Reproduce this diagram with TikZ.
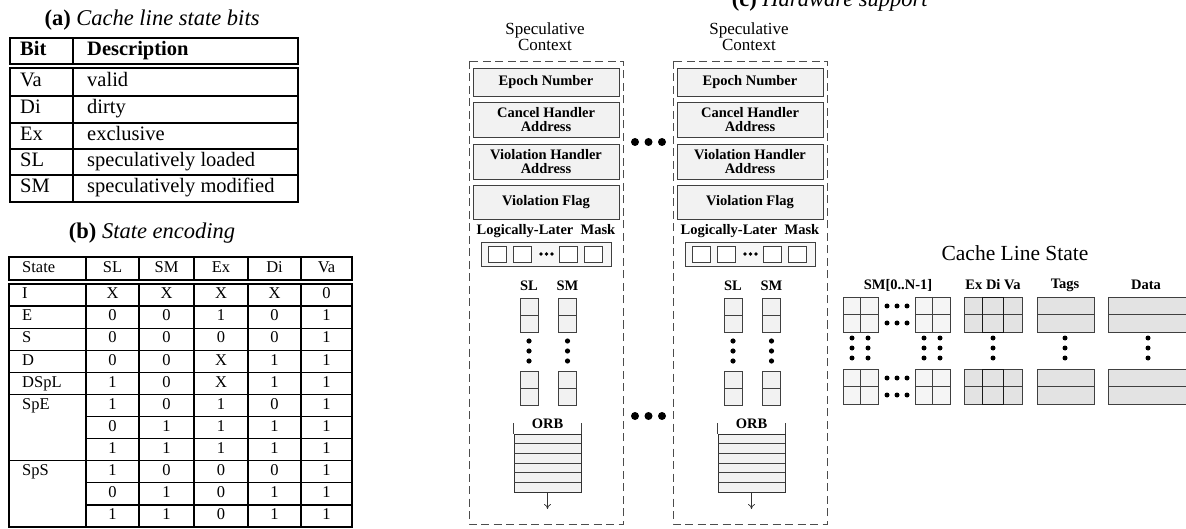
\documentclass[tikz,border=0pt]{standalone}
\usepackage{fontspec}
\setmainfont{Liberation Serif}
\usetikzlibrary{arrows.meta}
\begin{document}
\begin{tikzpicture}[x=1pt,y=-1pt,
  title/.style={font=\fontsize{22.5}{24}\selectfont, inner sep=0},
  tline/.style={line width=1.3pt},
  ta/.style={font=\fontsize{20.5}{22}\selectfont, inner sep=0, text height=13pt, text depth=4pt},
  tb/.style={font=\fontsize{16.5}{17}\selectfont, inner sep=0, text height=10.5pt, text depth=3pt},
  ctx/.style={draw=black!70, dash pattern=on 8pt off 4.5pt, line width=0.9pt},
  regbox/.style={draw=black!75, fill=black!5, line width=0.8pt, inner sep=0, align=center,
     font=\fontsize{14.5}{14}\selectfont\bfseries},
  lbl/.style={font=\fontsize{14.5}{14}\selectfont\bfseries, inner sep=0, align=center},
  ctxlbl/.style={font=\fontsize{17}{16}\selectfont, inner sep=0, align=center},
  cell/.style={draw=black!75, line width=0.8pt},
]
\useasboundingbox (0,0) rectangle (1186,529);

% ---------------- (a) ----------------
\node[title] (ta) at (152,20) {\textbf{(a)} \textit{Cache line state bits}};
\draw[tline] (10,38) rectangle (298,64);
\draw[tline] (10,68) rectangle (298,202);
\draw[tline] (73,38) -- (73,64);
\draw[tline] (73,68) -- (73,202);
\foreach \y in {96,123,149,175} \draw[tline] (10,\y) -- (298,\y);
\node[ta, anchor=west] (abit) at (20,51) {\textbf{Bit}};
\node[ta, anchor=west] (adesc) at (87,51) {\textbf{Description}};
\foreach \n/\d/\y [count=\k] in {Va/valid/82, Di/dirty/109.5, Ex/exclusive/136,
   SL/speculatively loaded/162, SM/speculatively modified/188.5} {
  \node[ta, anchor=west] (an\k) at (20,\y) {\n};
  \node[ta, anchor=west] (ad\k) at (87,\y) {\d};
}

% ---------------- (b) ----------------
\node[title] (tbt) at (152,233) {\textbf{(b)} \textit{State encoding}};
\draw[tline] (9,257) rectangle (352,280);
\draw[tline] (9,284) rectangle (352,527);
\foreach \x in {86,139,194,248,301} {
  \draw[tline] (\x,257) -- (\x,280);
  \draw[tline] (\x,284) -- (\x,527);
}
\foreach \k in {1,...,10} \draw[tline] (86,284+22.09*\k) -- (352,284+22.09*\k);
\foreach \k in {1,...,5,8} \draw[tline] (9,284+22.09*\k) -- (86,284+22.09*\k);
\node[tb, anchor=west] (bh0) at (22,268.5) {State};
\foreach \h/\x [count=\k] in {SL/112.5, SM/166.5, Ex/221, Di/274.5, Va/326.5}
  \node[tb] (bh\k) at (\x,268.5) {\h};
\foreach \s/\r in {I/0, E/1, S/2, D/3, DSpL/4, SpE/5, SpS/8}
  \node[tb, anchor=west] (bs\r) at (22,284+22.09*\r+11) {\s};
\foreach \r/\va/\vb/\vc/\vd/\ve in {0/X/X/X/X/0, 1/0/0/1/0/1, 2/0/0/0/0/1, 3/0/0/X/1/1,
   4/1/0/X/1/1, 5/1/0/1/0/1, 6/0/1/1/1/1, 7/1/1/1/1/1, 8/1/0/0/0/1, 9/0/1/0/1/1, 10/1/1/0/1/1} {
  \node[tb] (bc\r a) at (112.5,284+22.09*\r+11) {\va};
  \node[tb] (bc\r b) at (166.5,284+22.09*\r+11) {\vb};
  \node[tb] (bc\r c) at (221,284+22.09*\r+11) {\vc};
  \node[tb] (bc\r d) at (274.5,284+22.09*\r+11) {\vd};
  \node[tb] (bc\r e) at (326.5,284+22.09*\r+11) {\ve};
}

% ---------------- (c) ----------------
\node[title, anchor=base] (tc) at (830,7) {\textbf{(c)} \textit{Hardware support}};
\foreach \dx/\s in {0/1,204/2} {
 \begin{scope}[xshift=\dx]
  \node[ctxlbl] (spec\s) at (545,37) {Speculative\\Context};
  \draw[ctx] (469,61) rectangle (623,524);
  \node[regbox, minimum width=146, minimum height=28] (epoch\s) at (546,82) {Epoch Number};
  \node[regbox, minimum width=146, minimum height=35] (cancel\s) at (546,119.5) {Cancel Handler\\Address};
  \node[regbox, minimum width=146, minimum height=35] (viol\s) at (546,161.5) {Violation Handler\\Address};
  \node[regbox, minimum width=146, minimum height=34] (vflag\s) at (546,202) {Violation Flag};
  \node[lbl] (llm\s) at (546,231) {Logically-Later\ \ Mask};
  \node[draw=black!75, fill=black!3, line width=0.8pt, minimum width=130, minimum height=24, inner sep=0] (mask\s) at (546,254) {};
  \foreach \x in {488,513,559,584}
    \draw[cell, fill=white] (\x,246) rectangle ++(18,16);
  \foreach \x in {541,546.5,552} \fill (\x,254) circle (1.8pt);
  \node[lbl] (sl\s) at (529,286) {SL};
  \node[lbl] (sm\s) at (567.5,286) {SM};
  \foreach \x in {520,558.5} {
    \draw[cell, fill=black!5] (\x,298) rectangle ++(18,34);
    \draw[cell] (\x,315) -- ++(18,0);
    \draw[cell, fill=black!5] (\x,371) rectangle ++(18,34);
    \draw[cell] (\x,388) -- ++(18,0);
    \foreach \y in {341,351,361} \fill (\x+9,\y) circle (2.6pt);
  }
  \node[lbl] (orbl\s) at (547.5,424) {ORB};
  \node[draw=black!80, fill=black!5, line width=0.8pt, minimum width=67, minimum height=58, inner sep=0] (orb\s) at (547.5,463) {};
  \foreach \k in {1,...,5} \draw[cell] (514,434+9.67*\k) -- ++(67,0);
  \draw[cell] (orb\s.north west) -- ++(0,-11);
  \draw[cell] (orb\s.north east) -- ++(0,-11);
  \coordinate (orbend\s) at (547.5,509);
  \draw[black!80, line width=0.7pt, -{To[length=5pt,width=7pt]}] (orb\s.south) -- (orbend\s);
 \end{scope}
}
\foreach \x in {635,648.5,662} {
  \fill (\x,142) circle (4pt);
  \fill (\x,416) circle (4pt);
}

% ---------------- Cache line state ----------------
\node[font=\fontsize{21.5}{24}\selectfont, inner sep=0] (cls) at (1015,253) {Cache Line State};
\node[lbl] (hsm) at (898,285) {SM[0..N-1]};
\node[lbl] (hedv) at (993,285) {Ex Di Va};
\node[lbl] (htag) at (1065,285) {Tags};
\node[lbl] (hdata) at (1146,285) {Data};
\foreach \y in {297,369} {
  \foreach \x in {843,915} {
    \draw[cell, fill=black!4] (\x,\y) rectangle ++(35,35);
    \draw[cell] (\x+17.5,\y) -- ++(0,35);
    \draw[cell] (\x,\y+17.5) -- ++(35,0);
  }
  \foreach \x in {887,897,907} {
    \fill (\x,\y+9) circle (2.5pt);
    \fill (\x,\y+26) circle (2.5pt);
  }
  \draw[cell, fill=black!11] (964,\y) rectangle ++(58,35);
  \draw[cell] (964,\y+17.5) -- ++(58,0);
  \draw[cell] (982,\y) -- ++(0,35);
  \draw[cell] (1003,\y) -- ++(0,35);
  \draw[black!90, line width=0.9pt] (982,\y) rectangle ++(21,35);
  \draw[cell, fill=black!11] (1037,\y) rectangle ++(57,35);
  \draw[cell] (1037,\y+17.5) -- ++(57,0);
  \draw[cell, fill=black!11] (1108,\y) rectangle ++(90,35);
  \draw[cell] (1108,\y+17.5) -- ++(90,0);
}
\foreach \x in {852,868,924,940,993,1065,1148}
  \foreach \y in {338,348,358} \fill (\x,\y) circle (2.5pt);
\end{tikzpicture}
\end{document}
